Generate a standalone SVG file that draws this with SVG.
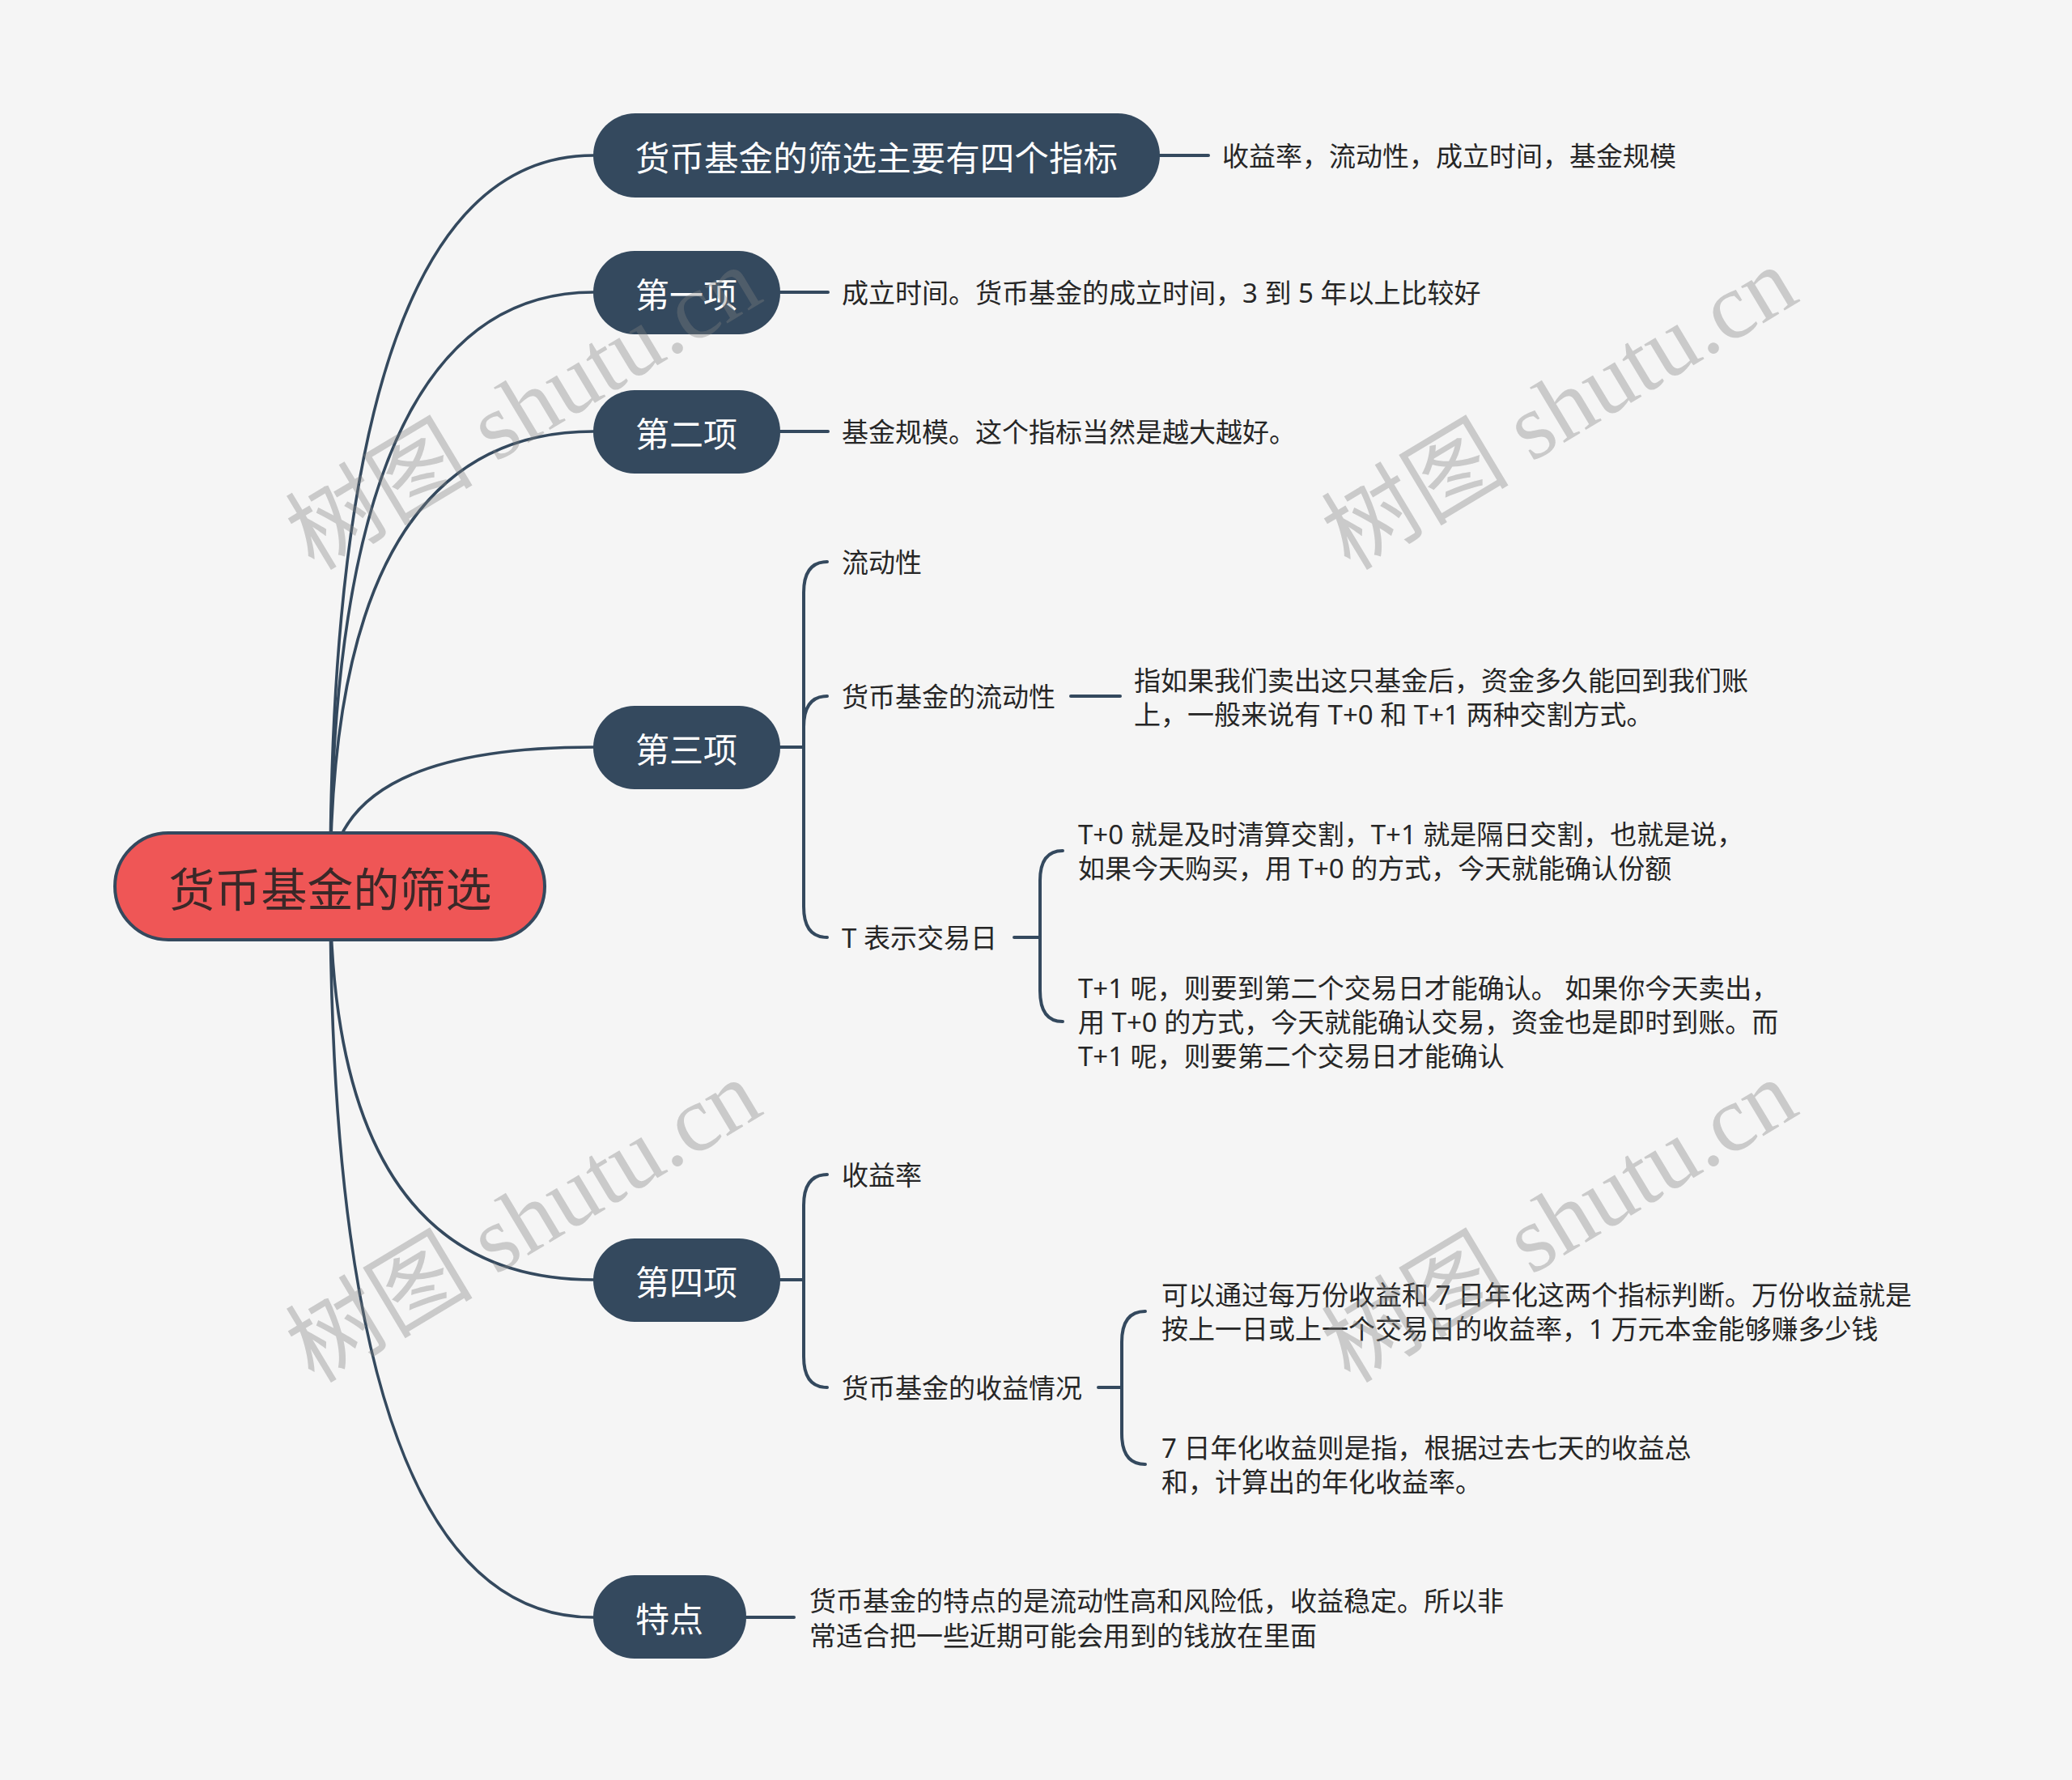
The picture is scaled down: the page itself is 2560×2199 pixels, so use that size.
<svg xmlns="http://www.w3.org/2000/svg" width="2560" height="2199" viewBox="0 0 2560 2199">
<defs>
<style>
.bg{fill:#F5F5F5}
.conn path{fill:none;stroke:#34495E;stroke-width:3.6;stroke-linecap:round}
.conn .br{stroke-width:4}
.l1 rect{fill:#34495E}
.l1 text{fill:#FFFFFF;font-size:42px;text-anchor:middle}
.t{font-family:"Noto Sans CJK SC","Noto Sans",sans-serif;dominant-baseline:central}
.leaf text{fill:#262626;font-size:33px;font-family:"Noto Sans","Noto Sans CJK SC",sans-serif}
.wm{font-family:"Liberation Serif","Noto Sans CJK SC",serif;font-size:116px;fill:#808080;fill-opacity:0.37}
</style>
</defs>
<rect class="bg" x="0" y="0" width="2560" height="2199"/>

<g id="connectors" class="conn">
<path d="M408 1095 Q408 192 733 192"/>
<path d="M408 1095 Q408 361 733 361"/>
<path d="M408 1095 Q408 533 733 533"/>
<path d="M408 1095 Q408 923 733 923"/>
<path d="M408 1095 Q408 1581 733 1581"/>
<path d="M408 1095 Q408 1998 733 1998"/>
<path class="br" d="M1433 192 L1493 192"/>
<path class="br" d="M963 361 L1023 361"/>
<path class="br" d="M963 533 L1023 533"/>
<path class="br" d="M963 923 L993 923 L993 732 Q993 694 1022 694"/>
<path class="br" d="M993 923 L993 898 Q993 860 1022 860"/>
<path class="br" d="M993 923 L993 1120 Q993 1158 1022 1158"/>
<path class="br" d="M1323 860 L1384 860"/>
<path class="br" d="M1253 1158 L1285 1158 L1285 1088 Q1285 1051 1313 1051"/>
<path class="br" d="M1285 1158 L1285 1224 Q1285 1262 1313 1262"/>
<path class="br" d="M963 1581 L993 1581 L993 1489 Q993 1451 1022 1451"/>
<path class="br" d="M993 1581 L993 1676 Q993 1714 1022 1714"/>
<path class="br" d="M1357 1714 L1386 1714 L1386 1658 Q1386 1620 1415 1620"/>
<path class="br" d="M1386 1714 L1386 1771 Q1386 1809 1415 1809"/>
<path class="br" d="M922 1998 L981 1998"/>
</g>

<g id="root">
<rect x="142" y="1029" width="531" height="132" rx="66" fill="#EF5656" stroke="#34495E" stroke-width="4"/>
<text class="t" x="408" y="1095" font-size="57" fill="#3A2828" text-anchor="middle">货币基金的筛选</text>
</g>

<g id="n1" class="l1"><rect x="733" y="140" width="700" height="104" rx="52"/><text class="t" x="1083" y="192" style="font-size:42.6px">货币基金的筛选主要有四个指标</text></g>
<g id="n2" class="l1"><rect x="733" y="310" width="231" height="103" rx="51"/><text class="t" x="848" y="361">第一项</text></g>
<g id="n3" class="l1"><rect x="733" y="482" width="231" height="103" rx="51"/><text class="t" x="848" y="533">第二项</text></g>
<g id="n4" class="l1"><rect x="733" y="872" width="231" height="103" rx="51"/><text class="t" x="848" y="923">第三项</text></g>
<g id="n5" class="l1"><rect x="733" y="1530" width="231" height="103" rx="51"/><text class="t" x="848" y="1581">第四项</text></g>
<g id="n6" class="l1"><rect x="733" y="1946" width="189" height="103" rx="51"/><text class="t" x="827" y="1997">特点</text></g>

<g id="leaf-n1" class="leaf"><text class="t" x="1510" y="192">收益率，流动性，成立时间，基金规模</text></g>
<g id="leaf-n2" class="leaf"><text class="t" x="1040" y="361">成立时间。货币基金的成立时间，3 到 5 年以上比较好</text></g>
<g id="leaf-n3" class="leaf"><text class="t" x="1040" y="533">基金规模。这个指标当然是越大越好。</text></g>
<g id="leaf-liquidity" class="leaf"><text class="t" x="1040" y="694">流动性</text></g>
<g id="leaf-fund-liquidity" class="leaf"><text class="t" x="1040" y="860">货币基金的流动性</text></g>
<g id="leaf-fund-liquidity-desc" class="leaf"><text class="t" x="1401" y="840">指如果我们卖出这只基金后，资金多久能回到我们账</text><text class="t" x="1401" y="882">上，一般来说有 T+0 和 T+1 两种交割方式。</text></g>
<g id="leaf-tday" class="leaf"><text class="t" x="1040" y="1158">T 表示交易日</text></g>
<g id="leaf-t0" class="leaf"><text class="t" x="1332" y="1030">T+0 就是及时清算交割，T+1 就是隔日交割，也就是说，</text><text class="t" x="1332" y="1072">如果今天购买，用 T+0 的方式，今天就能确认份额</text></g>
<g id="leaf-t1" class="leaf"><text class="t" x="1332" y="1220">T+1 呢，则要到第二个交易日才能确认。 如果你今天卖出，</text><text class="t" x="1332" y="1262">用 T+0 的方式，今天就能确认交易，资金也是即时到账。而</text><text class="t" x="1332" y="1304">T+1 呢，则要第二个交易日才能确认</text></g>
<g id="leaf-yield" class="leaf"><text class="t" x="1040" y="1451">收益率</text></g>
<g id="leaf-fund-yield" class="leaf"><text class="t" x="1040" y="1714">货币基金的收益情况</text></g>
<g id="leaf-wanfen" class="leaf"><text class="t" x="1435" y="1599">可以通过每万份收益和 7 日年化这两个指标判断。万份收益就是</text><text class="t" x="1435" y="1641">按上一日或上一个交易日的收益率，1 万元本金能够赚多少钱</text></g>
<g id="leaf-7day" class="leaf"><text class="t" x="1435" y="1788">7 日年化收益则是指，根据过去七天的收益总</text><text class="t" x="1435" y="1830">和，计算出的年化收益率。</text></g>
<g id="leaf-feature" class="leaf"><text class="t" x="1000" y="1977">货币基金的特点的是流动性高和风险低，收益稳定。所以非</text><text class="t" x="1000" y="2020">常适合把一些近期可能会用到的钱放在里面</text></g>

<g id="watermarks">
<text class="wm" transform="translate(388 706) rotate(-31)">树图 shutu.cn</text>
<text class="wm" transform="translate(1668 706) rotate(-31)">树图 shutu.cn</text>
<text class="wm" transform="translate(388 1710) rotate(-31)">树图 shutu.cn</text>
<text class="wm" transform="translate(1668 1710) rotate(-31)">树图 shutu.cn</text>
</g>
</svg>
